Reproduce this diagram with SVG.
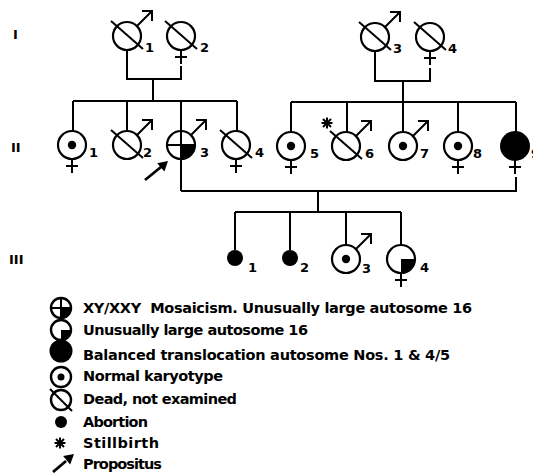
<svg xmlns="http://www.w3.org/2000/svg" width="533" height="473" viewBox="0 0 533 473">
<style>
.ln{stroke:#000;stroke-width:2;fill:none;stroke-linecap:butt}
.pa{stroke:#000;stroke-width:2.8;fill:none}
.c{fill:#fff;stroke:#000;stroke-width:2.2}
.cl{fill:#fff;stroke:#000;stroke-width:2.4}
.f{fill:#000;stroke:none}
.lbl{font-family:"DejaVu Sans","Liberation Sans",sans-serif;font-weight:bold;font-size:13px;fill:#000}
.gen{font-family:"DejaVu Sans","Liberation Sans",sans-serif;font-weight:bold;font-size:13px;fill:#000}
.leg{font-family:"DejaVu Sans","Liberation Sans",sans-serif;font-weight:bold;font-size:14.5px;fill:#000}
</style>
<defs>
<path id="male" class="ln" d="M10,-10 L25,-25 M15,-25 H25 V-15"/>
<path id="female" class="ln" d="M0,14 V28 M-6,21 H6"/>
<path id="slash" class="ln" d="M-16,-15 L16,13"/>
<path id="star" class="ln" style="stroke-width:2" d="M-5.5,0 H5.5 M0,-5.5 V5.5 M-4,-4 L4,4 M-4,4 L4,-4"/>
<path id="quad" class="f" d="M0,0 H14 A14,14 0 0 1 0,14 Z"/>
</defs>
<rect width="533" height="473" fill="#fff"/>

<g id="generation-labels">
<text class="gen" x="13" y="39">I</text>
<text class="gen" x="11" y="152">II</text>
<text class="gen" x="9" y="264">III</text>
</g>

<g id="connectors">
<path class="ln" d="M127,50 V79 H181 V66 M153,79 V101 M73,101 H237 M73,101 V131 M127,101 V131 M181,101 V191 M237,101 V131"/>
<path class="ln" d="M375,51 V81 H430 V68 M403,81 V102 M291,102 H516 M291,102 V132 M347,102 V132 M403,102 V132 M458,102 V132 M516,102 V132"/>
<path class="ln" d="M181,191 H516 V177 M318,191 V212 M235,212 H401 M235,212 V250 M290,212 V250 M346,212 V245 M401,212 V245"/>
</g>

<g id="I-1" transform="translate(127,36)">
<circle class="c" r="14"/><use href="#slash"/><use href="#male"/>
<text class="lbl" x="18" y="16">1</text>
</g>
<g id="I-2" transform="translate(181,36)">
<circle class="c" r="14"/><use href="#slash"/><use href="#female"/>
<text class="lbl" x="19" y="16">2</text>
</g>
<g id="I-3" transform="translate(375,37)">
<circle class="c" r="14"/><use href="#slash"/><use href="#male"/>
<text class="lbl" x="18" y="16">3</text>
</g>
<g id="I-4" transform="translate(430,37)">
<circle class="c" r="14"/><use href="#slash"/><use href="#female"/>
<text class="lbl" x="18" y="16">4</text>
</g>

<g id="II-1" transform="translate(72,145)">
<circle class="c" r="14"/><circle class="f" r="4.2"/><use href="#female"/>
<text class="lbl" x="17" y="12">1</text>
</g>
<g id="II-2" transform="translate(127,145)">
<circle class="c" r="14"/><use href="#slash"/><use href="#male"/>
<text class="lbl" x="16" y="12">2</text>
</g>
<g id="II-3" transform="translate(181,145)">
<circle class="c" r="14"/><use href="#quad"/>
<path class="ln" d="M-14,0 H14 M0,-14 V14"/><use href="#male"/>
<text class="lbl" x="19" y="12">3</text>
<path class="pa" d="M-36,35 L-20,22"/>
<polygon class="f" points="-13,16 -16.6,26.6 -23.8,18.2"/>
</g>
<g id="II-4" transform="translate(236,145)">
<circle class="c" r="14"/><use href="#slash"/><use href="#female"/>
<text class="lbl" x="19" y="12">4</text>
</g>
<g id="II-5" transform="translate(291,146)">
<circle class="c" r="14"/><circle class="f" r="4.2"/><use href="#female"/>
<text class="lbl" x="19" y="12">5</text>
</g>
<g id="II-6" transform="translate(346,146)">
<circle class="c" r="14"/><use href="#slash"/><use href="#male"/>
<use href="#star" x="-19" y="-23"/>
<text class="lbl" x="19" y="12">6</text>
</g>
<g id="II-7" transform="translate(403,146)">
<circle class="c" r="14"/><circle class="f" r="4.2"/><use href="#male"/>
<text class="lbl" x="17" y="12">7</text>
</g>
<g id="II-8" transform="translate(458,146)">
<circle class="c" r="14"/><circle class="f" r="4.2"/><use href="#female"/>
<text class="lbl" x="15" y="12">8</text>
</g>
<g id="II-9" transform="translate(515,146)">
<circle class="f" r="15"/><use href="#female"/>
<text class="lbl" x="16" y="12">9</text>
</g>

<g id="III-1" transform="translate(235,258)">
<circle class="f" r="8"/>
<text class="lbl" x="13" y="14">1</text>
</g>
<g id="III-2" transform="translate(290,258)">
<circle class="f" r="8"/>
<text class="lbl" x="10" y="14">2</text>
</g>
<g id="III-3" transform="translate(346,259)">
<circle class="c" r="14"/><circle class="f" r="4.2"/><use href="#male"/>
<text class="lbl" x="16" y="14">3</text>
</g>
<g id="III-4" transform="translate(401,259)">
<circle class="c" r="14"/><use href="#quad"/><use href="#female"/>
<text class="lbl" x="19" y="13">4</text>
</g>

<g id="legend">
<g id="legend-mosaicism" transform="translate(61,308)">
<circle class="cl" r="10"/><path class="f" d="M0,0 H10 A10,10 0 0 1 0,10 Z"/><path class="ln" d="M-10,0 H10 M0,-10 V10"/>
</g>
<g id="legend-large16" transform="translate(61,330)">
<circle class="cl" r="10"/><path class="f" d="M0,0 H10 A10,10 0 0 1 0,10 Z"/>
</g>
<circle id="legend-translocation" class="f" cx="61" cy="351" r="11.5"/>
<g id="legend-normal" transform="translate(61,377)">
<circle class="cl" r="10"/><circle class="f" r="3.5"/>
</g>
<g id="legend-dead" transform="translate(61,400)">
<circle class="cl" r="10"/><path class="ln" d="M-11,-11 L11,11"/>
</g>
<circle id="legend-abortion" class="f" cx="61" cy="422" r="6"/>
<use id="legend-stillbirth" href="#star" x="60" y="443"/>
<g id="legend-propositus">
<path class="pa" d="M53,472 L66,461"/>
<polygon class="f" points="74,454 70.2,464.4 63.1,456"/>
</g>
<text class="leg" x="83" y="313" xml:space="preserve" textLength="389" lengthAdjust="spacing">XY/XXY  Mosaicism. Unusually large autosome 16</text>
<text class="leg" x="83" y="335" textLength="225" lengthAdjust="spacing">Unusually large autosome 16</text>
<text class="leg" x="83" y="360" textLength="367" lengthAdjust="spacing">Balanced translocation autosome Nos. 1 &amp; 4/5</text>
<text class="leg" x="83" y="381" textLength="140" lengthAdjust="spacing">Normal karyotype</text>
<text class="leg" x="83" y="404" textLength="154" lengthAdjust="spacing">Dead, not examined</text>
<text class="leg" x="83" y="427" textLength="65" lengthAdjust="spacing">Abortion</text>
<text class="leg" x="83" y="448" textLength="76" lengthAdjust="spacing">Stillbirth</text>
<text class="leg" x="83" y="469" textLength="79" lengthAdjust="spacing">Propositus</text>
</g>
</svg>
